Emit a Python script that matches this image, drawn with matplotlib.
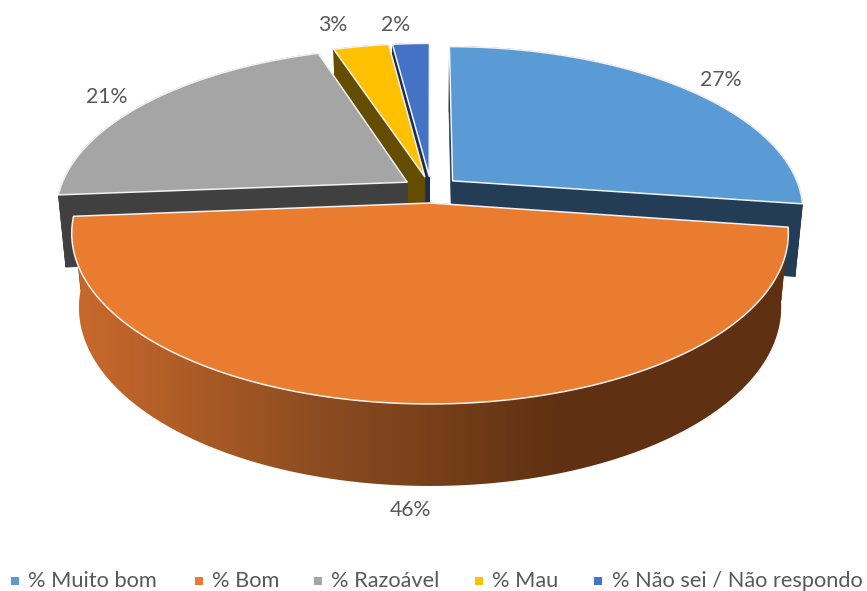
import numpy as np
import matplotlib
matplotlib.use("Agg")
import matplotlib.pyplot as plt
from matplotlib.colors import LinearSegmentedColormap
from matplotlib.patches import Polygon

categories = ["% Muito bom", "% Bom", "% Razoável", "% Mau", "% Não sei / Não respondo"]
percent_values = [27, 46, 21, 3, 2]
percent_labels = ["27%", "46%", "21%", "3%", "2%"]

top_colors = ["#5B9BD5", "#EA7C30", "#A5A5A5", "#FFC000", "#4472C4"]
side_colors = ["#223D55", "#5F3112", "#404040", "#644C00", "#1B2E50"]
label_positions = [(721, 80), (410, 510), (107, 97), (333, 25), (396, 25)]
legend_squares = [15, 199, 318, 479, 598]
legend_text_x = [28, 212, 331, 492, 612]

# projection of the disc, in image pixels
CX, CY = 431.0, 189.5
AX_X, AX_Y, PERSP = 347.5, 160.5, 0.175
LOW_X, LOW_Y, LOW_OFF = 0.98, 168.0, 72.0
EXPLODE = 0.083
TEXT = "#595959"

wall_cmap = LinearSegmentedColormap.from_list("wall", ["#C8692C", "#8C4C20", "#5F3112"])


def project(u, v, low=False):
    w = 1 + PERSP * v
    x = AX_X * u / w
    if low:
        return CX + LOW_X * x, CY + LOW_OFF - LOW_Y * v / w
    return CX + x, CY - AX_Y * v / w


def slice_outline(start, end, shift):
    angles = np.radians(np.linspace(start, end, 120))
    u = np.sin(angles) + shift[0]
    v = np.cos(angles) + shift[1]
    return u, v


def draw_rim(ax, u, v, color, shaded):
    x0, y0 = project(u, v)
    x1, y1 = project(u, v, low=True)
    xs = np.r_[x0, x1[::-1]]
    ys = np.r_[y0, y1[::-1]]
    if not shaded:
        ax.fill(xs, ys, color=color, lw=0.5, zorder=1)
        return
    # the big slice has a wall that darkens from left to right
    clip = Polygon(np.c_[xs, ys], closed=True, transform=ax.transData, facecolor="none", edgecolor="none")
    ax.add_patch(clip)
    ramp = np.linspace(0, 1, 256).reshape(1, -1)
    image = ax.imshow(ramp, cmap=wall_cmap, extent=(80, 560, 600, 0), aspect="auto", zorder=1)
    image.set_clip_path(clip)
    left = ax.imshow(np.zeros((1, 1)), cmap=wall_cmap, vmin=0, vmax=1, extent=(0, 80, 600, 0), aspect="auto", zorder=1)
    left.set_clip_path(clip)
    right = ax.imshow(np.ones((1, 1)), cmap=wall_cmap, vmin=0, vmax=1, extent=(560, 867, 600, 0), aspect="auto", zorder=1)
    right.set_clip_path(clip)


def draw_slice(ax, start, end, top, side, shaded=False):
    mid = np.radians((start + end) / 2)
    shift = (EXPLODE * np.sin(mid), EXPLODE * np.cos(mid))
    u, v = slice_outline(start, end, shift)

    # cut faces first, then the outer wall, then the top
    for i in (0, -1):
        qu = [shift[0], u[i]]
        qv = [shift[1], v[i]]
        x0, y0 = project(np.array(qu), np.array(qv))
        x1, y1 = project(np.array(qu), np.array(qv), low=True)
        ax.fill(np.r_[x0, x1[::-1]], np.r_[y0, y1[::-1]], color=side, lw=0.5, zorder=1)
    draw_rim(ax, u, v, side, shaded)

    x, y = project(np.r_[shift[0], u], np.r_[shift[1], v])
    ax.fill(x, y, facecolor=top, edgecolor="#F2F2F2", lw=1.1, joinstyle="round", zorder=1)


def create_chart():
    fig = plt.figure(figsize=(8.67, 5.91), dpi=100)
    ax = fig.add_axes([0, 0, 1, 1])
    ax.axis("off")

    total = sum(percent_values)
    edges = np.cumsum([0] + percent_values) / total * 360

    # back slices first, the big front slice last
    for i in [0, 4, 3, 2, 1]:
        draw_slice(ax, edges[i], edges[i + 1], top_colors[i], side_colors[i], shaded=i == 1)

    for text, (x, y) in zip(percent_labels, label_positions):
        ax.text(x, y, text, ha="center", va="center", fontsize=15.3, color=TEXT, family="Lato")

    for i, name in enumerate(categories):
        ax.scatter(legend_squares[i], 581, marker="s", s=36, color=top_colors[i], linewidths=0)
        ax.text(legend_text_x[i], 581, name, ha="left", va="center", fontsize=15.7, color=TEXT, family="Lato")

    ax.set_xlim(0, 867)
    ax.set_ylim(591, 0)
    fig.savefig("out.png", dpi=100)
    plt.close(fig)


if __name__ == "__main__":
    create_chart()
